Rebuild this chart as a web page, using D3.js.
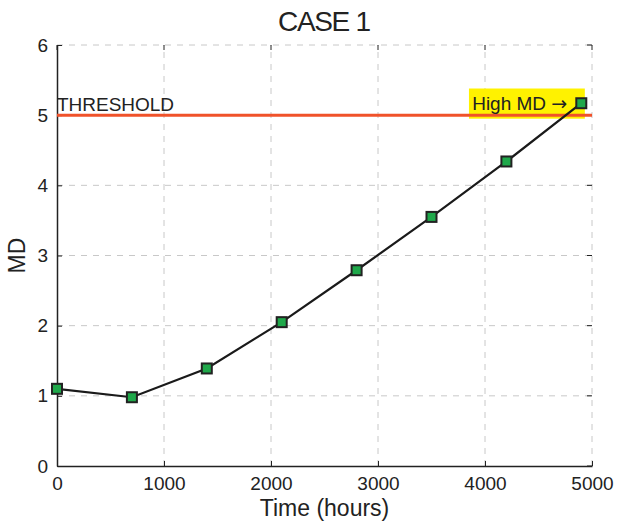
<!DOCTYPE html>
<html>
<head>
<meta charset="utf-8">
<script src="https://cdn.jsdelivr.net/npm/d3@7"></script>
<style>
  body { margin: 0; background: #fff; }
  text { font-family: "Liberation Sans", Arial, sans-serif; fill: #222; }
</style>
</head>
<body>
<div id="chart"></div>
<script>
// data
const hours = [0, 700, 1400, 2100, 2800, 3500, 4200, 4900];
const md = [1.1, 0.98, 1.39, 2.05, 2.79, 3.55, 4.34, 5.17];
const xTicks = [0, 1000, 2000, 3000, 4000, 5000];
const yTicks = [0, 1, 2, 3, 4, 5, 6];
const threshold = 5;

const width = 619, height = 524;
const margin = {top: 45, right: 27, bottom: 58, left: 57};

const svg = d3.select("#chart").append("svg")
    .attr("width", width)
    .attr("height", height);

const x = d3.scaleLinear().domain([0, 5000]).range([margin.left, width - margin.right]);
const y = d3.scaleLinear().domain([0, 6]).range([height - margin.bottom, margin.top]);

// grid
svg.append("g")
    .selectAll("line")
    .data(xTicks.slice(1))
    .enter().append("line")
    .attr("x1", d => x(d)).attr("x2", d => x(d))
    .attr("y1", y(0)).attr("y2", y(6))
    .attr("stroke", "#c8c8c8").attr("stroke-dasharray", "6,6");
svg.append("g")
    .selectAll("line")
    .data(yTicks.slice(1))
    .enter().append("line")
    .attr("x1", x(0)).attr("x2", x(5000))
    .attr("y1", d => y(d)).attr("y2", d => y(d))
    .attr("stroke", "#c8c8c8").attr("stroke-dasharray", "6,6");

// axes (inward ticks)
const xAxis = svg.append("g")
    .attr("transform", "translate(0," + y(0) + ")")
    .call(d3.axisBottom(x).tickValues(xTicks).tickFormat(d3.format("d"))
        .tickSize(-5).tickPadding(11).tickSizeOuter(0));
const yAxis = svg.append("g")
    .attr("transform", "translate(" + x(0) + ",0)")
    .call(d3.axisLeft(y).tickValues(yTicks).tickFormat(d3.format("d"))
        .tickSize(-5).tickPadding(9).tickSizeOuter(0));
[xAxis, yAxis].forEach(function(a){
    a.select(".domain").attr("stroke", "#222").attr("stroke-width", 1.5);
    a.selectAll(".tick line").attr("stroke", "#222");
    a.selectAll(".tick text").attr("font-size", 19).attr("fill", "#222")
        .style("font-family", "'Liberation Sans', Arial, sans-serif");
});

// top and right ticks
svg.append("g").selectAll("line").data(xTicks).enter().append("line")
    .attr("x1", d => x(d)).attr("x2", d => x(d))
    .attr("y1", y(6)).attr("y2", y(6) + 5)
    .attr("stroke", "#222");
svg.append("g").selectAll("line").data(yTicks).enter().append("line")
    .attr("x1", x(5000)).attr("x2", x(5000) - 5)
    .attr("y1", d => y(d)).attr("y2", d => y(d))
    .attr("stroke", "#222");

// highlight box
svg.append("rect")
    .attr("x", x(3850)).attr("y", y(5.38))
    .attr("width", x(4933) - x(3850)).attr("height", y(4.95) - y(5.38))
    .attr("fill", "#fff200");

// threshold
svg.append("line")
    .attr("x1", x(0)).attr("x2", x(5000))
    .attr("y1", y(threshold)).attr("y2", y(threshold))
    .attr("stroke", "#f0522a").attr("stroke-width", 3);

svg.append("text")
    .attr("x", x(0)).attr("y", y(threshold) - 4)
    .attr("font-size", 19)
    .attr("textLength", 117)
    .text("THRESHOLD");

const hi = svg.append("text")
    .attr("x", x(3880)).attr("y", y(threshold) - 5)
    .attr("font-size", 19);
hi.append("tspan").text("High MD ");
hi.append("tspan").style("font-family", "'DejaVu Sans', sans-serif")
    .attr("font-size", 19).text("\u2192");

// line + markers
const line = d3.line().x((d, i) => x(hours[i])).y(d => y(d));
svg.append("path")
    .datum(md)
    .attr("d", line)
    .attr("fill", "none")
    .attr("stroke", "#1a1a1a")
    .attr("stroke-width", 2.2);

svg.append("g").selectAll("rect")
    .data(md)
    .enter().append("rect")
    .attr("x", (d, i) => x(hours[i]) - 5)
    .attr("y", d => y(d) - 5)
    .attr("width", 10).attr("height", 10)
    .attr("fill", "#1fa84a")
    .attr("stroke", "#222")
    .attr("stroke-width", 2);

// title and labels
svg.append("text")
    .attr("x", (x(0) + x(5000)) / 2).attr("y", 31)
    .attr("text-anchor", "middle")
    .attr("font-size", 28)
    .attr("textLength", 93)
    .text("CASE 1");

svg.append("text")
    .attr("x", (x(0) + x(5000)) / 2).attr("y", 516)
    .attr("text-anchor", "middle")
    .attr("font-size", 23)
    .text("Time (hours)");

svg.append("text")
    .attr("transform", "translate(25," + y(3) + ") rotate(-90)")
    .attr("text-anchor", "middle")
    .attr("font-size", 23)
    .text("MD");
</script>
</body>
</html>
